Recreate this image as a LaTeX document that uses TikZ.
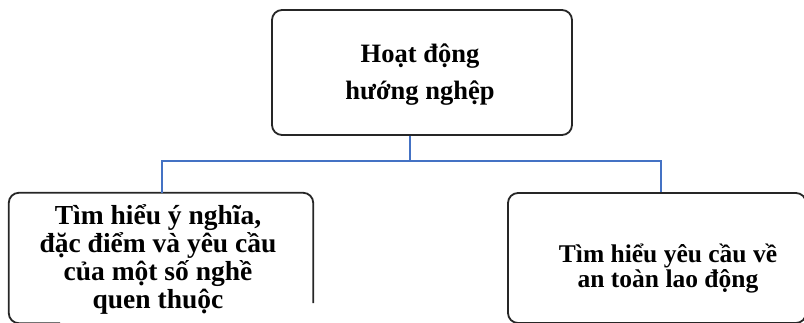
\documentclass[tikz,border=0pt]{standalone}
\usepackage{fontspec}
\setmainfont{Liberation Serif}
\begin{document}
\begin{tikzpicture}[x=1pt,y=-1pt,
  boxline/.style={draw=black!85, line width=1.8pt, rounded corners=10pt},
  panel/.style={boxline, fill=none, inner sep=0pt},
  label/.style={align=center, anchor=base},
  link/.style={draw={rgb,255:red,68;green,114;blue,196}, line width=2.4pt}]
  \useasboundingbox (0,0) rectangle (804,322);
  \clip (0,0) rectangle (804,322);
  % boxes
  \node[panel, minimum width=300pt, minimum height=125pt] (top) at (422,72.5) {};
  \node[inner sep=0pt, minimum width=304pt, minimum height=130pt] (left) at (161,258) {};
  \node[panel, minimum width=298pt, minimum height=130pt] (right) at (657,258) {};
  % left box outline (right side stops short)
  \draw[boxline] (left.north east |- 0,303) -- (left.north east) -- (left.north west)
        -- (left.south west) -- (left.south west -| 60,0);
  % texts (anchored on the baseline of the last line)
  \node[label, font=\bfseries\fontsize{26.5}{37}\selectfont] (toptext) at (420,99)
        {Hoạt động\\hướng nghệp};
  \node[label, font=\bfseries\fontsize{27.5}{27.7}\selectfont] (lefttext) at (158,308)
        {Tìm hiểu ý nghĩa,\\đặc điểm và yêu cầu\\của một số nghề\\quen thuộc};
  \node[label, font=\bfseries\fontsize{25.5}{23}\selectfont] (righttext) at (668,287)
        {Tìm hiểu yêu cầu về\\an toàn lao động};
  % connectors
  \coordinate (split) at (410,161);
  \draw[link] (top.south -| split) -- (split);
  \draw[link] (split) -| (left.north -| 162,0);
  \draw[link] (split) -| (right.north -| 661,0);
\end{tikzpicture}
\end{document}
